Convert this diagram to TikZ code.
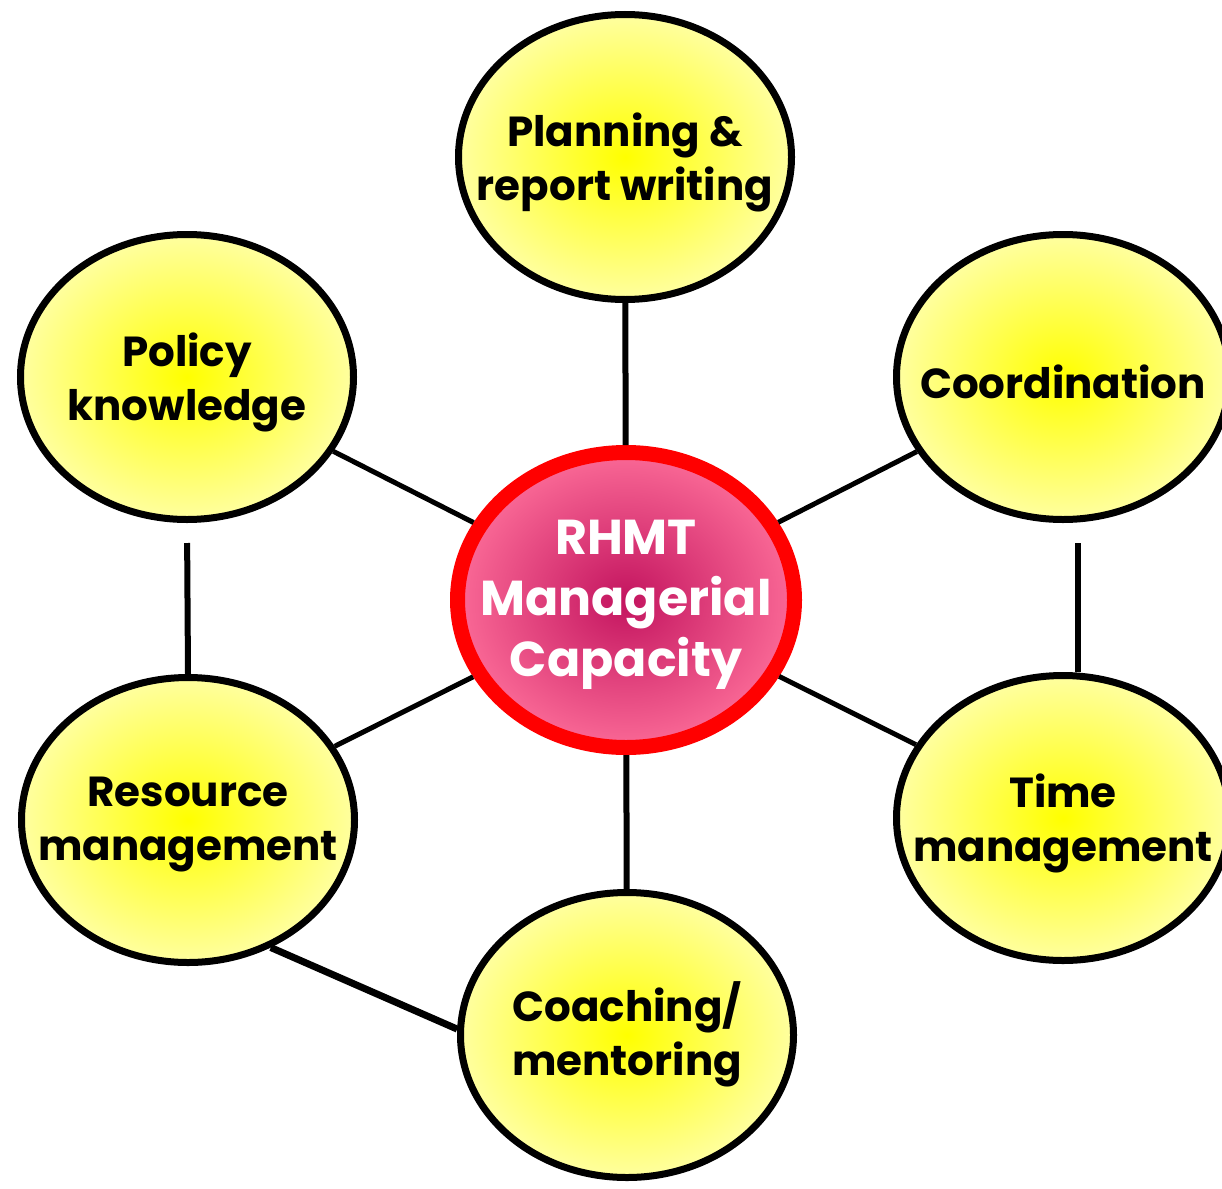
\documentclass[tikz,border=0pt]{standalone}
\usepackage{fontspec}
\setmainfont{Poppins}
\usetikzlibrary{shapes.geometric}
\definecolor{pale}{RGB}{255,255,160}
\definecolor{core}{RGB}{255,255,0}
\definecolor{pinkout}{RGB}{250,105,150}
\definecolor{pinkin}{RGB}{195,20,95}
\definecolor{ringred}{RGB}{255,0,0}
\begin{document}
\begin{tikzpicture}[x=1pt,y=-1pt,
  bub/.style={ellipse, draw=black, line width=7pt, minimum width=333pt, minimum height=285pt,
              inner color=core, outer color=pale, inner sep=0pt},
  hub/.style={ellipse, draw=ringred, line width=15pt, minimum width=337pt, minimum height=295pt,
              inner color=pinkin, outer color=pinkout, inner sep=0pt},
  lab/.style={font=\bfseries\fontsize{42}{54}\selectfont, align=center, text=black, yshift=-5pt},
  hublab/.style={font=\bfseries\fontsize{49}{61}\selectfont, align=center, text=white, yshift=-5pt},
  link/.style={draw=black, line width=5pt},
  vlink/.style={draw=black, line width=6pt}]
\useasboundingbox (0,0) rectangle (1222,1188);
\node[hub] (hub) at (626,600) {};
\node[bub] (plan) at (625,157) {};
\node[bub] (pol) at (187,377) {};
\node[bub] (coord) at (1063,377) {};
\node[bub] (res) at (188,820) {};
\node[bub] (time) at (1063,818) {};
\node[bub] (coach) at (627,1035) {};
\node[hublab] at (hub) {RHMT\\Managerial\\Capacity};
\node[lab] at (plan) {Planning \&\\report writing};
\node[lab] at (pol) {Policy\\knowledge};
\node[lab] at (coord) {Coordination};
\node[lab] at (res) {Resource\\management};
\node[lab] at (time) {Time\\management};
\node[lab] at ([yshift=6pt]coach.center) {Coaching/\\mentoring};
\draw[vlink] (plan) -- (hub);
\draw[vlink] (hub) -- (coach);
\draw[link] (pol) -- (hub);
\draw[link] (coord) -- (hub);
\draw[link] (res) -- (hub);
\draw[link] (time) -- (hub);
\draw[vlink, shorten <=20pt] (pol.south) -- (res.north);
\draw[vlink, shorten <=20pt] ([xshift=15pt]coord.south) -- ([xshift=15pt]time.north);
\draw[line width=7pt] (res.-57) -- (coach.178);
\end{tikzpicture}
\end{document}
